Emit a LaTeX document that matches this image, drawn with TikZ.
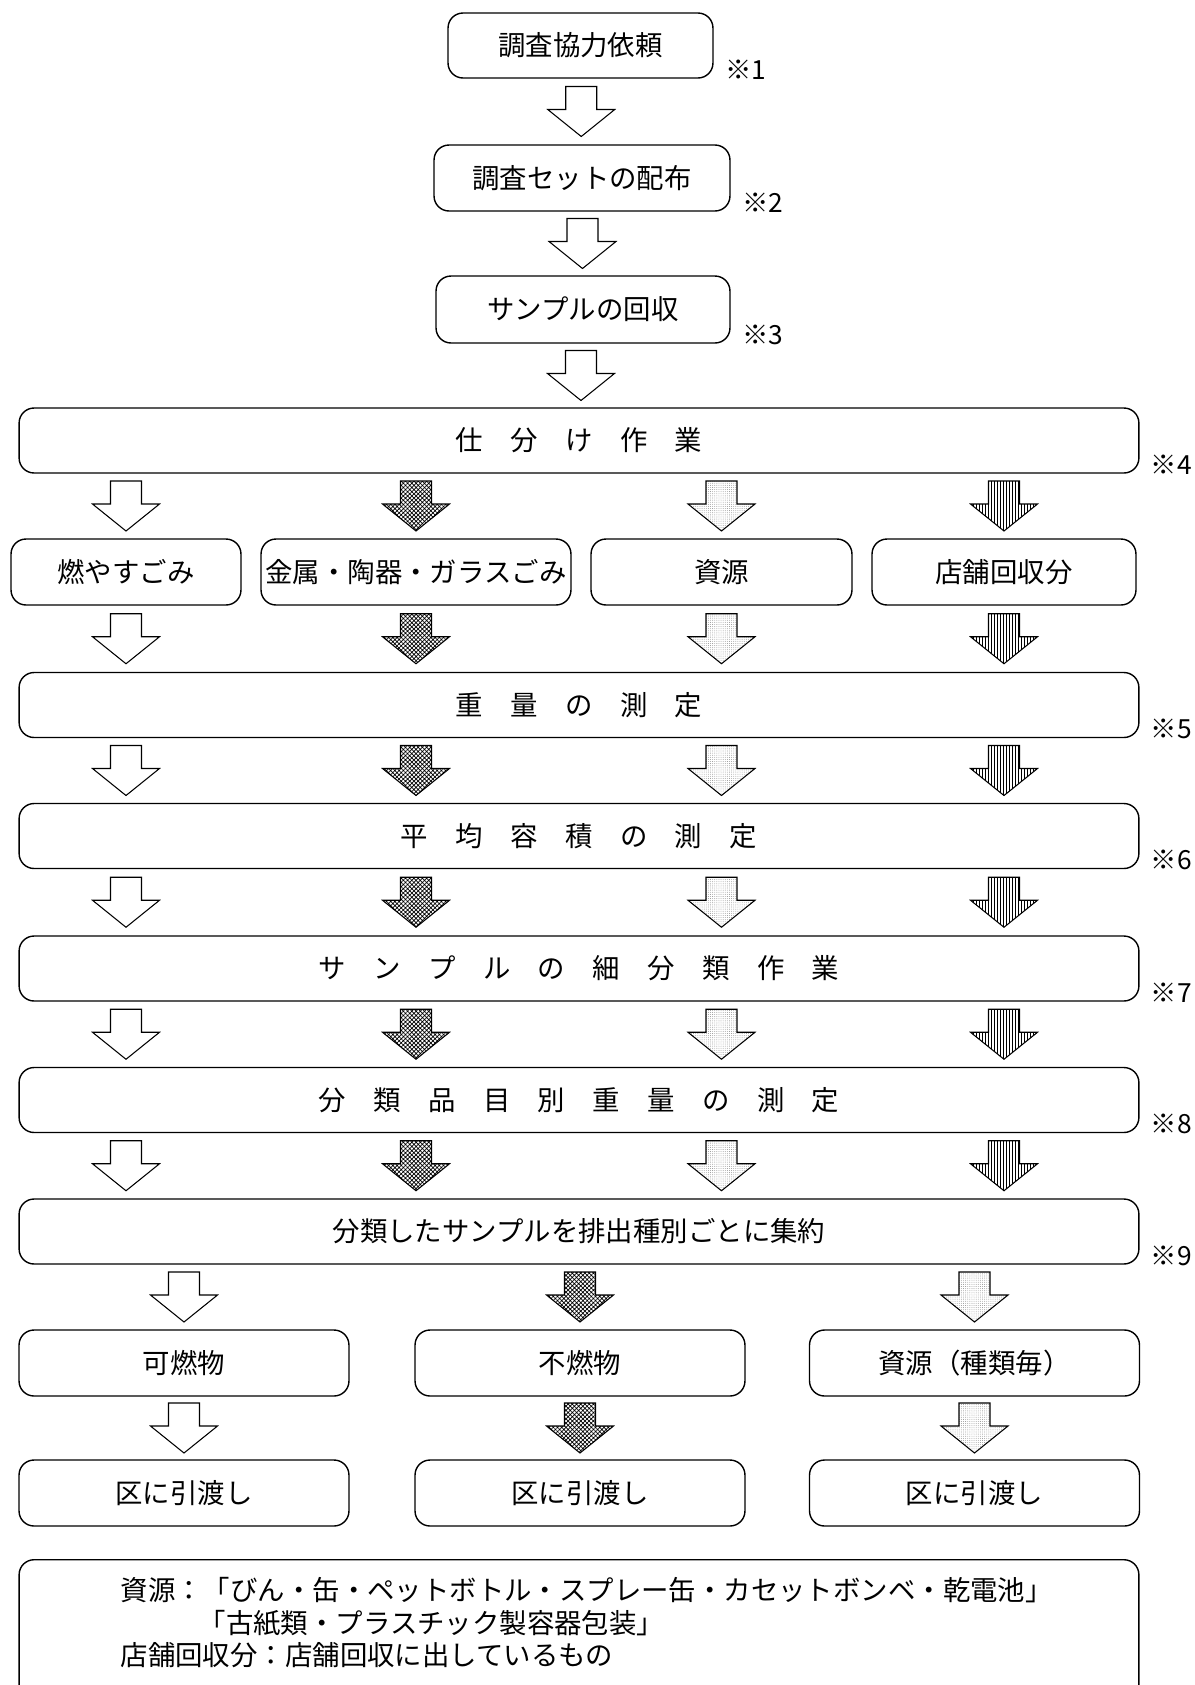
\documentclass[tikz,border=0pt]{standalone}
\usepackage{fontspec}
\setmainfont{Noto Sans CJK JP}
\usetikzlibrary{calc,patterns.meta}
\tikzset{
  jp/.style={font=\fontsize{15.6}{18.8}\selectfont},
  stepbox/.style={draw,line width=0.8pt,rounded corners=0.3cm,inner sep=0pt,jp},
  widebox/.style={stepbox,minimum width=22.4cm,minimum height=1.3cm},
  colbox/.style={stepbox,minimum width=6.6cm,minimum height=1.32cm},
  remark/.style={anchor=west,inner sep=0pt,font=\fontsize{15}{18}\selectfont},
  plain/.style={fill=white},
  mesh/.style={pattern={Hatch[angle=45,distance=1.7pt,line width=0.4pt]}},
  dotty/.style={pattern={Dots[distance=1.2pt,radius=0.25pt]},pattern color=black!45},
  stripe/.style={pattern={Lines[angle=90,distance=1.7pt,line width=0.6pt]}},
}
\newcommand\bigdown[2]{\draw[line width=0.6pt,#1] #2 ++(-15.5,-25) -- ++(31,0) -- ++(0,23) -- ++(18,0) -- ++(-33.5,27) -- ++(-33.5,-27) -- ++(18,0) -- cycle;}
\begin{document}
\begin{tikzpicture}[x=0.02cm,y=-0.02cm]
    \useasboundingbox (0,0) rectangle (1195,1685);
    \node[stepbox,minimum width=5.3cm,minimum height=1.3cm](ask)at(580.5,45.5){調査協力依頼};%依頼
    \node[stepbox,minimum width=5.92cm,minimum height=1.32cm](dist)at(582,178){調査セットの配布};%配布
    \node[stepbox,minimum width=5.88cm,minimum height=1.34cm](coll)at(583,309.5){サンプルの回収};%回収
    \node[widebox](sort)at(579,440.5){仕　分　け　作　業};
    \node[stepbox,minimum width=4.6cm,minimum height=1.32cm](burn)at(126,572){燃やすごみ};
    \node[stepbox,minimum width=6.2cm,minimum height=1.32cm](metal)at(416,572){金属・陶器・ガラスごみ};
    \node[stepbox,minimum width=5.22cm,minimum height=1.32cm](res)at(721.5,572){資源};
    \node[stepbox,minimum width=5.28cm,minimum height=1.32cm](shop)at(1004,572){店舗回収分};
    \node[widebox](weigh)at(579,705){重　量　の　測　定};
    \node[widebox](vol)at(579,836){平　均　容　積　の　測　定};
    \node[widebox](fine)at(579,968.5){サ　ン　プ　ル　の　細　分　類　作　業};
    \node[widebox](item)at(579,1100){分　類　品　目　別　重　量　の　測　定};
    \node[widebox](gath)at(579,1231.5){分類したサンプルを排出種別ごとに集約};
    \node[colbox](comb)at(184,1363){可燃物};
    \node[colbox](inc)at(580,1363){不燃物};
    \node[colbox](reso)at(974.5,1363){資源（種類毎）};
    \node[colbox](hand1)at(184,1493){区に引渡し};
    \node[colbox](hand2)at(580,1493){区に引渡し};
    \node[colbox](hand3)at(974.5,1493){区に引渡し};
    %注記
    \node[stepbox,minimum width=22.4cm,minimum height=3.6cm,anchor=north](note)at(579,1559){};
    \node[remark,jp](n1)at($(note.north west)+(102,31)$){資源：「びん・缶・ペットボトル・スプレー缶・カセットボンベ・乾電池」};
    \node[remark,jp](n2)at($(note.north west)+(180,64)$){「古紙類・プラスチック製容器包装」};
    \node[remark,jp](n3)at($(note.north west)+(102,96)$){店舗回収分：店舗回収に出しているもの};
    %※印
    \foreach \b/\k in {ask/1,dist/2,coll/3,sort/4,weigh/5,vol/6,fine/7,item/8,gath/9}
      {\node[remark](m\k)at($(\b.south east)+(11,-9)$){※\k};}
    %矢印
    \bigdown{plain}{($(ask.south)!0.5!(dist.north)$)}
    \bigdown{plain}{($(dist.south)!0.5!(coll.north)$)}
    \bigdown{plain}{($(coll.south)!0.5!(sort.north)$)}
    \foreach \c/\s in {burn/plain,metal/mesh,res/dotty,shop/stripe}{
      \bigdown{\s}{($(sort.south -| \c)!0.5!(\c.north)$)}
      \bigdown{\s}{($(\c.south)!0.5!(\c.south |- weigh.north)$)}
      \foreach \a/\z in {weigh/vol,vol/fine,fine/item,item/gath}
        {\bigdown{\s}{($(\a.south -| \c)!0.5!(\z.north -| \c)$)}}
    }
    \foreach \c/\d/\s in {comb/hand1/plain,inc/hand2/mesh,reso/hand3/dotty}{
      \bigdown{\s}{($(gath.south -| \c)!0.5!(\c.north)$)}
      \bigdown{\s}{($(\c.south)!0.5!(\d.north)$)}
    }
\end{tikzpicture}
\end{document}
